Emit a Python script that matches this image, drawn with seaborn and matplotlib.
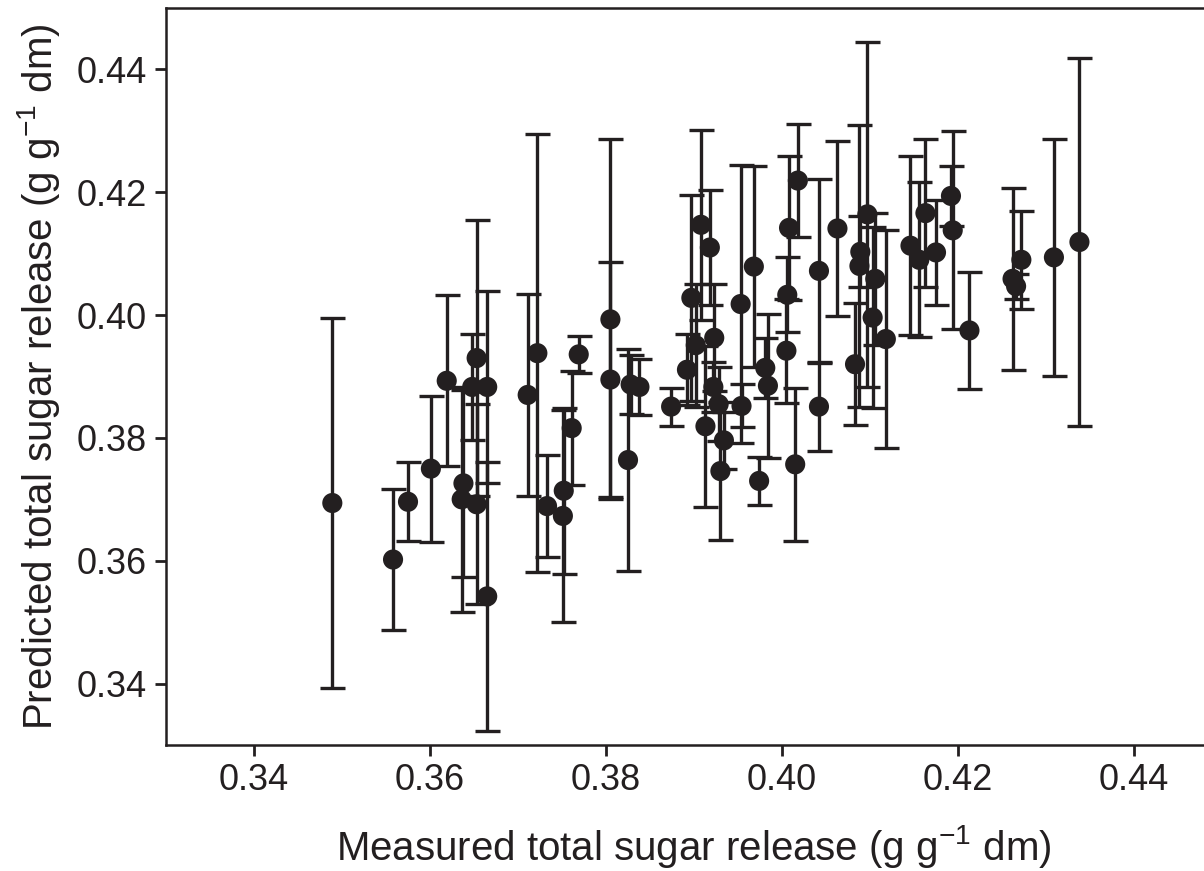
import matplotlib
matplotlib.use("Agg")
import matplotlib.pyplot as plt
import seaborn as sns
import pandas as pd

# Measured vs predicted total sugar release (g g-1 dm), with error half-widths
measured = [0.3489, 0.3558, 0.3575, 0.3601, 0.3619, 0.3638, 0.3636, 0.3653, 0.3648, 0.3665,
            0.3653, 0.3665, 0.3711, 0.3722, 0.3733, 0.3751, 0.3752, 0.3761, 0.3769, 0.3805,
            0.3805, 0.3825, 0.3828, 0.3838, 0.3874, 0.3897, 0.3892, 0.3902, 0.3923, 0.3922,
            0.3928, 0.3913, 0.3934, 0.3930, 0.3908, 0.3918, 0.3953, 0.3954, 0.3968, 0.3974,
            0.3981, 0.3984, 0.4018, 0.4008, 0.4006, 0.4005, 0.4015, 0.4042, 0.4042, 0.4063,
            0.4097, 0.4089, 0.4088, 0.4106, 0.4103, 0.4118, 0.4083, 0.4146, 0.4156, 0.4163,
            0.4192, 0.4194, 0.4175, 0.4213, 0.4262, 0.4266, 0.4272, 0.4309, 0.4338]
predicted = [0.3694, 0.3602, 0.3696, 0.3750, 0.3893, 0.3726, 0.3700, 0.3930, 0.3883, 0.3883,
             0.3692, 0.3542, 0.3870, 0.3938, 0.3689, 0.3673, 0.3714, 0.3816, 0.3936, 0.3993,
             0.3895, 0.3764, 0.3887, 0.3883, 0.3851, 0.4028, 0.3911, 0.3951, 0.3963, 0.3883,
             0.3855, 0.3819, 0.3796, 0.3746, 0.4147, 0.4110, 0.4018, 0.3852, 0.4079, 0.3730,
             0.3914, 0.3885, 0.4219, 0.4142, 0.4033, 0.3942, 0.3757, 0.4072, 0.3851, 0.4141,
             0.4164, 0.4103, 0.4080, 0.4059, 0.3996, 0.3961, 0.3920, 0.4113, 0.4090, 0.4166,
             0.4194, 0.4138, 0.4102, 0.3975, 0.4059, 0.4047, 0.4090, 0.4094, 0.4119]
error = [0.0302, 0.0115, 0.0064, 0.0119, 0.0139, 0.0152, 0.0183, 0.0225, 0.0086, 0.0157,
         0.0163, 0.0219, 0.0164, 0.0357, 0.0083, 0.0173, 0.0135, 0.0093, 0.0030, 0.0293,
         0.0192, 0.0180, 0.0048, 0.0045, 0.0031, 0.0168, 0.0058, 0.0100, 0.0087, 0.0040,
         0.0060, 0.0131, 0.0046, 0.0112, 0.0155, 0.0094, 0.0227, 0.0035, 0.0163, 0.0039,
         0.0049, 0.0117, 0.0092, 0.0117, 0.0061, 0.0085, 0.0125, 0.0150, 0.0072, 0.0142,
         0.0281, 0.0058, 0.0230, 0.0108, 0.0147, 0.0177, 0.0099, 0.0146, 0.0126, 0.0120,
         0.0049, 0.0161, 0.0085, 0.0095, 0.0148, 0.0020, 0.0080, 0.0193, 0.0300]

x_ticks = [0.34, 0.36, 0.38, 0.40, 0.42, 0.44]
y_ticks = [0.34, 0.36, 0.38, 0.40, 0.42, 0.44]
x_label = "Measured total sugar release (g g$\\mathregular{^{-1}}$ dm)"
y_label = "Predicted total sugar release (g g$\\mathregular{^{-1}}$ dm)"

df = pd.DataFrame({"measured": measured, "predicted": predicted, "error": error})

INK = "#231f20"
sns.set_theme(style="ticks")
plt.rcParams["font.family"] = ["Liberation Sans", "DejaVu Sans"]
plt.rcParams["mathtext.fontset"] = "custom"
plt.rcParams["mathtext.rm"] = "Liberation Sans"

fig = plt.figure(figsize=(12.04, 8.71), dpi=100)
ax = fig.add_axes([166 / 1204, 126 / 871, 1056 / 1204, 737 / 871])

ax.errorbar(df["measured"], df["predicted"], yerr=df["error"], fmt="none",
            ecolor=INK, elinewidth=2.4, capsize=9, capthick=2.4, zorder=2)
sns.scatterplot(data=df, x="measured", y="predicted", ax=ax, s=210,
                color=INK, edgecolor="none", linewidth=0, zorder=3)

ax.set_xlim(0.33, 0.45)
ax.set_ylim(0.33, 0.45)
ax.set_xticks(x_ticks)
ax.set_yticks(y_ticks)
ax.set_xticklabels([f"{v:.2f}" for v in x_ticks])
ax.set_yticklabels([f"{v:.2f}" for v in y_ticks])

for side in ["left", "bottom", "top", "right"]:
    ax.spines[side].set_visible(True)
    ax.spines[side].set_linewidth(1.8)
    ax.spines[side].set_color(INK)

ax.tick_params(axis="both", direction="out", length=8, width=2, color=INK,
               labelsize=26, labelcolor=INK)
ax.tick_params(axis="x", pad=5)
ax.tick_params(axis="y", pad=6)

ax.set_xlabel(x_label, fontsize=29, color=INK, labelpad=18)
ax.set_ylabel(y_label, fontsize=29, color=INK, labelpad=10)

fig.savefig("out.png", dpi=100)
